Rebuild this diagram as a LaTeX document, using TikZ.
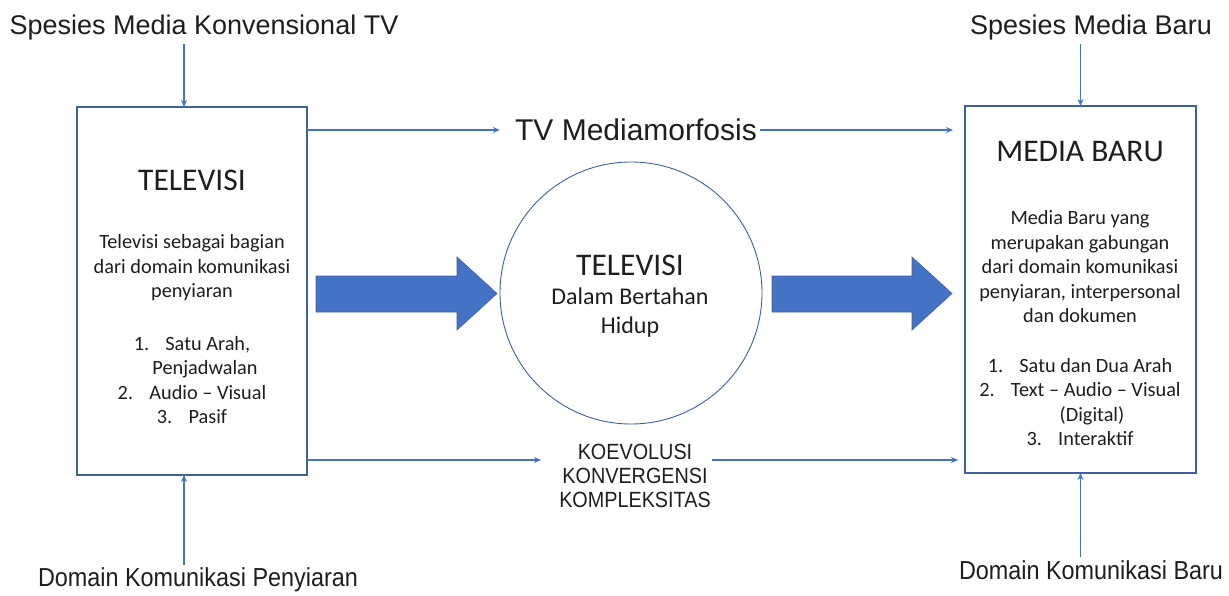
\documentclass[tikz,border=0pt]{standalone}
\usepackage{fontspec}
\setmainfont{Carlito}
\newfontfamily\arialfont{Liberation Sans}
\newfontfamily\narrowfont[FakeStretch=0.9]{Liberation Sans}
\usetikzlibrary{calc,arrows.meta}
\definecolor{linkblue}{RGB}{68,114,196}
\definecolor{edgeblue}{RGB}{62,96,160}
\definecolor{inkgray}{RGB}{30,30,30}

\begin{document}
\begin{tikzpicture}[x=1pt,y=-1pt,every node/.style={outer sep=0pt,text=inkgray}]
\tikzstyle{link}=[linkblue, line width=1.2pt, -{Stealth[length=7pt,width=6pt]}]
\tikzstyle{box}=[draw=edgeblue, line width=1.3pt, fill=white]
\tikzstyle{bigarrow}=[fill=linkblue, draw=edgeblue, line width=0.6pt]
\tikzstyle{boxtitle}=[font=\fontsize{31.5}{36}\selectfont]
\tikzstyle{boxtext}=[align=center, inner sep=0pt, font=\fontsize{20.3}{24.5}\selectfont]
\tikzstyle{toptext}=[font=\arialfont\fontsize{27}{32}\selectfont]
\tikzstyle{source}=[font=\narrowfont\fontsize{26}{30}\selectfont]
\tikzstyle{flow}=[align=center, inner sep=0pt, font=\narrowfont\fontsize{22}{24}\selectfont]

\fill [white] (0,0) rectangle (1229,596);
\useasboundingbox (0,0) rectangle (1229,596);

% the two media boxes and the circle between them
\node (tv) [box, minimum width=230, minimum height=368] at (192,291) {};
\node (mb) [box, minimum width=231, minimum height=367] at (1080.5,289.5) {};
\node (tvc) [circle, draw=edgeblue, line width=0.9pt, minimum size=262] at (631,293) {};

% left box
\node (tvtitle) [boxtitle] at (192,180) {TELEVISI};
\node (tvdesc) [boxtext] at (192,268) {Televisi sebagai bagian\\dari domain komunikasi\\penyiaran};
\node (tvlist) [boxtext] at (192,380) {1.\hspace{0.8em}Satu Arah,\\\hspace*{26pt}Penjadwalan\\2.\hspace{0.8em}Audio – Visual\\3.\hspace{0.8em}Pasif};

% circle
\node (tvctitle) [boxtitle] at (630,265) {TELEVISI};
\node (tvcdesc) [boxtext, font=\fontsize{24}{29}\selectfont] at (630,313) {Dalam Bertahan\\Hidup};

% right box
\node (mbtitle) [boxtitle] at (1080,152) {MEDIA BARU};
\node (mbdesc) [boxtext] at (1080,267) {Media Baru yang\\merupakan gabungan\\dari domain komunikasi\\penyiaran, interpersonal\\dan dokumen};
\node (mblist) [boxtext] at (1080,402) {1.\hspace{0.8em}Satu dan Dua Arah\\2.\hspace{0.8em}Text – Audio – Visual\\\hspace*{24pt}(Digital)\\3.\hspace{0.8em}Interaktif};

% outer labels
\node (konv) [toptext] at (204,28) {Spesies Media Konvensional TV};
\node (sbaru) [toptext] at (1091,28) {Spesies Media Baru};
\node (morf) [toptext, font=\arialfont\fontsize{30}{34}\selectfont] at (636,130) {TV Mediamorfosis};
\node (dkp) [source] at (198,580) {Domain Komunikasi Penyiaran};
\node (dkb) [source] at (1091,570) {Domain Komunikasi Baru};
\node (kkk) [flow] at (635,476) {KOEVOLUSI\\KONVERGENSI\\KOMPLEKSITAS};

% vertical inputs
\coordinate (tvin) at ($(tv.north)+(-8,0)$);
\coordinate (tvout) at ($(tv.south)+(-8,0)$);
\draw [link] (konv.south -| tvin) -- (tvin);
\draw [link] (dkp.north -| tvout) -- (tvout);
\draw [link] (sbaru.south -| mb.north) -- (mb.north);
\draw [link] (dkb.north -| mb.south) -- (mb.south);

% horizontal links
\draw [link, shorten >=12pt] (tv.east |- morf.west) -- (morf.west);
\draw [link, shorten >=12pt] (morf.east) -- (morf.east -| mb.west);
\coordinate (kvin) at (541,460);
\coordinate (kvout) at (712,460);
\draw [link] (tv.east |- kvin) -- (kvin);
\draw [link, shorten >=7pt] (kvout) -- (kvout -| mb.west);

% block arrows
\draw [bigarrow] (316,276) -- (457,276) -- (457,257) -- (497,293.5) -- (457,330) -- (457,312) -- (316,312) -- cycle;
\draw [bigarrow] (772,276) -- (912,276) -- (912,257) -- (952,293.5) -- (912,330) -- (912,312) -- (772,312) -- cycle;
\end{tikzpicture}
\end{document}
